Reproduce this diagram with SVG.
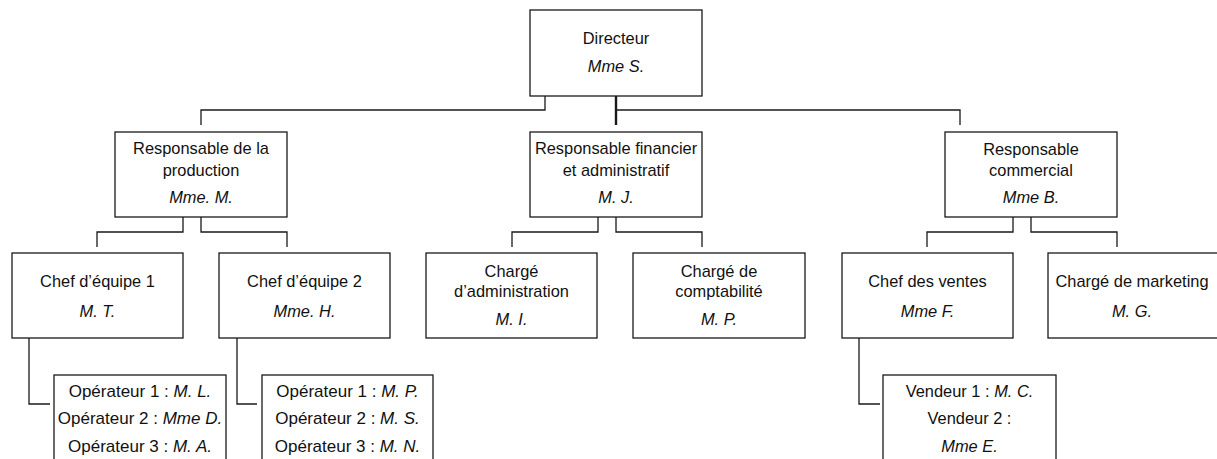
<svg xmlns="http://www.w3.org/2000/svg" width="1217" height="459" viewBox="0 0 1217 459">
<style>
.box{fill:#ffffff;stroke:#1a1a1a;stroke-width:1.3}
.c{fill:none;stroke:#1a1a1a;stroke-width:1.3}
.t{font-family:"Liberation Sans",Arial,sans-serif;font-size:16.4px;fill:#111111;text-anchor:middle}
.op{font-size:17px}
.i{font-style:italic}
</style>
<rect width="1217" height="459" fill="#ffffff"/>
<g id="connectors">
<path class="c" d="M545,96 V110 H201 V125"/>
<path class="c" d="M616,96 V125" style="stroke-width:2.4"/>
<path class="c" d="M616,110 H960 V125"/>
<path class="c" d="M183,217 V232 H97 V247"/>
<path class="c" d="M201,217 V232 H287 V247"/>
<path class="c" d="M598,217 V232 H512 V247"/>
<path class="c" d="M616,217 V232 H702 V247"/>
<path class="c" d="M1013,217 V232 H927 V247"/>
<path class="c" d="M1031,217 V232 H1117 V247"/>
<path class="c" d="M29,338 V404 H50"/>
<path class="c" d="M237,338 V404 H257"/>
<path class="c" d="M859,338 V404 H880"/>
</g>
<g id="directeur">
<rect class="box" x="530" y="10" width="172" height="86"/>
<text class="t" x="616" y="44">Directeur</text>
<text class="t i" x="616" y="72">Mme S.</text>
</g>
<g id="resp-production">
<rect class="box" x="115" y="132" width="172" height="85"/>
<text class="t" x="201" y="154">Responsable de la</text>
<text class="t" x="201" y="176">production</text>
<text class="t i" x="201" y="203">Mme. M.</text>
</g>
<g id="resp-financier">
<rect class="box" x="530" y="132" width="172" height="85"/>
<text class="t" x="616" y="154">Responsable financier</text>
<text class="t" x="616" y="176">et administratif</text>
<text class="t i" x="616" y="203">M. J.</text>
</g>
<g id="resp-commercial">
<rect class="box" x="945" y="132" width="172" height="85"/>
<text class="t" x="1031" y="155">Responsable</text>
<text class="t" x="1031" y="176">commercial</text>
<text class="t i" x="1031" y="203">Mme B.</text>
</g>
<g id="chef-equipe-1">
<rect class="box" x="12" y="253" width="171" height="85"/>
<text class="t" x="97.5" y="287">Chef d’équipe 1</text>
<text class="t i" x="97.5" y="317">M. T.</text>
</g>
<g id="chef-equipe-2">
<rect class="box" x="219" y="253" width="171" height="85"/>
<text class="t" x="304.5" y="287">Chef d’équipe 2</text>
<text class="t i" x="304.5" y="317">Mme. H.</text>
</g>
<g id="charge-administration">
<rect class="box" x="426" y="253" width="171" height="85"/>
<text class="t" x="511.5" y="277">Chargé</text>
<text class="t" x="511.5" y="297">d’administration</text>
<text class="t i" x="511.5" y="325">M. I.</text>
</g>
<g id="charge-comptabilite">
<rect class="box" x="633" y="253" width="172" height="85"/>
<text class="t" x="719" y="277">Chargé de</text>
<text class="t" x="719" y="297">comptabilité</text>
<text class="t i" x="719" y="325">M. P.</text>
</g>
<g id="chef-ventes">
<rect class="box" x="842" y="253" width="171" height="85"/>
<text class="t" x="927.5" y="287">Chef des ventes</text>
<text class="t i" x="927.5" y="317">Mme F.</text>
</g>
<g id="charge-marketing">
<rect class="box" x="1048" y="253" width="172" height="85"/>
<text class="t" x="1132" y="287">Chargé de marketing</text>
<text class="t i" x="1132" y="317">M. G.</text>
</g>
<g id="operateurs-1">
<rect class="box" x="54" y="375" width="172" height="100"/>
<text class="t op" x="140" y="397">Opérateur 1 : <tspan class="i">M. L.</tspan></text>
<text class="t op" x="140" y="424">Opérateur 2 : <tspan class="i">Mme D.</tspan></text>
<text class="t op" x="140" y="452">Opérateur 3 : <tspan class="i">M. A.</tspan></text>
</g>
<g id="operateurs-2">
<rect class="box" x="262" y="375" width="171" height="100"/>
<text class="t op" x="347.5" y="397">Opérateur 1 : <tspan class="i">M. P.</tspan></text>
<text class="t op" x="347.5" y="424">Opérateur 2 : <tspan class="i">M. S.</tspan></text>
<text class="t op" x="347.5" y="452">Opérateur 3 : <tspan class="i">M. N.</tspan></text>
</g>
<g id="vendeurs">
<rect class="box" x="883" y="375" width="173" height="100"/>
<text class="t" x="969.5" y="397">Vendeur 1 : <tspan class="i">M. C.</tspan></text>
<text class="t" x="969.5" y="424">Vendeur 2 :</text>
<text class="t i" x="969.5" y="452">Mme E.</text>
</g>
</svg>
